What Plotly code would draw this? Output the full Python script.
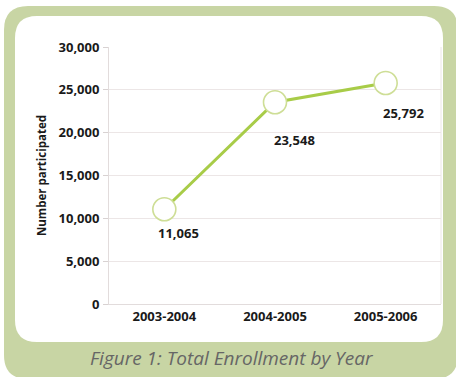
import plotly.graph_objects as go

# Enrollment data
years = ["2003-2004", "2004-2005", "2005-2006"]
enrollment = [11065, 23548, 25792]
y_ticks = [0, 5000, 10000, 15000, 20000, 25000, 30000]

# Label offsets (pixels) for the value labels under each marker
label_dx = [14, 19, 18]
label_dy = [-24, -38, -30]

W, H = 456, 377
L, R, T, B = 109, 15, 47, 73
PW, PH = W - L - R, H - T - B

GREEN = "#C8D5A4"
LINE = "rgb(168,204,72)"
RING = "rgb(206,222,150)"


def px(x):
    return (x - L) / PW


def py(y):
    return (H - B - y) / PH


def rounded_rect(x0, y0, x1, y1, r):
    """SVG path (paper coords) for a rounded rectangle given in pixels."""
    rx, ry = r / PW, r / PH
    a, b, c, d = px(x0), py(y0), px(x1), py(y1)
    return (
        f"M{a + rx},{b} L{c - rx},{b} Q{c},{b} {c},{b - ry} "
        f"L{c},{d + ry} Q{c},{d} {c - rx},{d} "
        f"L{a + rx},{d} Q{a},{d} {a},{d + ry} "
        f"L{a},{b - ry} Q{a},{b} {a + rx},{b} Z"
    )


fig = go.Figure()
fig.add_trace(go.Scatter(
    x=years, y=enrollment, mode="lines+markers",
    line=dict(color=LINE, width=3),
    marker=dict(size=23, color="white", line=dict(color=RING, width=1.6)),
    hoverinfo="skip", showlegend=False,
))

for xv, yv, dx, dy in zip(years, enrollment, label_dx, label_dy):
    fig.add_annotation(
        x=xv, y=yv, text=f"<b>{yv:,}</b>", showarrow=False,
        xshift=dx, yshift=dy,
        font=dict(family="Open Sans", size=13, color="#1a1a1a"),
    )

fig.add_annotation(
    xref="paper", yref="paper", x=px(232), y=py(358),
    xanchor="center", yanchor="middle",
    text="<i>Figure 1: Total Enrollment by Year</i>", showarrow=False,
    font=dict(family="Open Sans", size=19, color="#666666"),
)

shapes = [
    dict(type="path", xref="paper", yref="paper", layer="below",
         path=rounded_rect(4, 6, 458, 379, 24),
         fillcolor=GREEN, line=dict(width=0)),
    dict(type="path", xref="paper", yref="paper", layer="below",
         path=rounded_rect(15, 16, 443, 342, 22),
         fillcolor="white", line=dict(width=0)),
]

fig.update_layout(
    width=W, height=H,
    margin=dict(l=L, r=R, t=T, b=B, pad=0),
    paper_bgcolor="white",
    plot_bgcolor="rgba(0,0,0,0)",
    shapes=shapes,
    font=dict(family="Open Sans", size=13, color="#1a1a1a"),
    xaxis=dict(
        range=[-0.5, 2.5], showgrid=False, zeroline=False,
        showline=True, linecolor="#e2dcdc", linewidth=1, mirror=False,
        ticks="", tickfont=dict(family="Open Sans", size=13, weight="bold"),
        fixedrange=True,
    ),
    yaxis=dict(
        range=[0, 30000], tickvals=y_ticks, tickformat=",",
        showgrid=True, gridcolor="#ece6e6", gridwidth=1,
        zeroline=False, showline=True, linecolor="#e2dcdc", linewidth=1,
        ticks="outside", ticklen=5, tickcolor="#d8d2d2",
        ticklabelstandoff=1,
        tickfont=dict(family="Open Sans", size=13, weight="bold"),
        title=dict(text="<b>Number participated</b>", standoff=9,
                   font=dict(family="Open Sans", size=11.5)),
        fixedrange=True,
    ),
)

# faint right border of the plot area
fig.add_shape(type="line", xref="paper", yref="paper", x0=1, x1=1, y0=0, y1=1,
              line=dict(color="#ece6e6", width=1), layer="below")

fig.write_html("out.html")
